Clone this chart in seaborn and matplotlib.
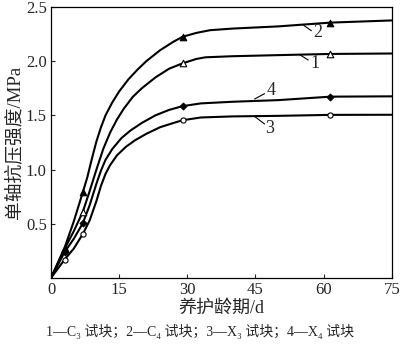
import numpy as np
import pandas as pd
import matplotlib
matplotlib.use("Agg")
import matplotlib.pyplot as plt
import seaborn as sns

# ---- data ----
# curve 1: C3 specimen (open triangle)
c1_x = [0, 3, 5, 7, 8.5, 10, 11.5, 13, 14.5, 16, 18, 20, 23, 26, 29, 32, 34, 40, 50, 61.5, 75]
c1_y = [0, 0.27, 0.43, 0.61, 0.80, 1.00, 1.19, 1.34, 1.46, 1.56, 1.67, 1.75, 1.85, 1.93, 1.98, 2.02, 2.035, 2.045, 2.055, 2.066, 2.07]
# curve 2: C4 specimen (filled triangle)
c2_x = [0, 3, 5, 7, 8, 9, 10, 11, 12, 13.5, 15, 17, 19, 21, 24, 27, 29, 32, 35, 40, 50, 61.5, 75]
c2_y = [0, 0.28, 0.52, 0.79, 0.93, 1.10, 1.26, 1.39, 1.50, 1.62, 1.72, 1.83, 1.92, 2.00, 2.10, 2.18, 2.225, 2.26, 2.285, 2.30, 2.32, 2.355, 2.375]
# curve 3: X3 specimen (open circle)
c3_x = [0, 3, 5, 7, 8.5, 10, 11, 12, 13, 14.5, 16.5, 18.5, 21, 24, 27, 29, 33, 40, 50, 61.5, 75]
c3_y = [0, 0.17, 0.27, 0.405, 0.53, 0.71, 0.85, 0.96, 1.04, 1.13, 1.21, 1.27, 1.33, 1.39, 1.43, 1.455, 1.48, 1.49, 1.495, 1.504, 1.505]
# curve 4: X4 specimen (filled diamond)
c4_x = [0, 3, 5, 7, 8.5, 10, 11, 12, 13.5, 15.5, 17.5, 20, 23, 26, 29, 33, 40, 50, 61.5, 75]
c4_y = [0, 0.24, 0.36, 0.505, 0.67, 0.87, 0.99, 1.09, 1.19, 1.29, 1.36, 1.43, 1.50, 1.55, 1.585, 1.61, 1.625, 1.64, 1.672, 1.675]

# measured points (markers)
mk_x = [3, 7, 29, 61.5]
mk_c1 = [0.27, 0.61, 1.98, 2.066]
mk_c2 = [0.28, 0.79, 2.225, 2.355]
mk_c3 = [0.17, 0.405, 1.455, 1.504]
mk_c4 = [0.24, 0.505, 1.585, 1.672]

curve_labels = ["1", "2", "3", "4"]
label_pos_x = [58.0, 58.7, 48.1, 48.5]
label_pos_y = [1.98, 2.26, 1.38, 1.73]
leader_x0 = [54.7, 55.6, 44.8, 44.8]
leader_y0 = [2.06, 2.33, 1.49, 1.65]
leader_x1 = [56.6, 57.3, 47.0, 47.0]
leader_y1 = [2.01, 2.28, 1.42, 1.70]

x_ticks = [0, 15, 30, 45, 60, 75]
y_ticks = [0.5, 1.0, 1.5, 2.0, 2.5]
y_tick_labels = ["0.5", "1.0", "1.5", "2.0", "2.5"]

x_label = "养护龄期/d"
y_label = "单轴抗压强度/MPa"
caption = "1—C₃ 试块；2—C₄ 试块；3—X₃ 试块；4—X₄ 试块"

# ---- build tables ----
lines = pd.concat([
    pd.DataFrame({"x": c1_x, "y": c1_y, "s": "1"}),
    pd.DataFrame({"x": c2_x, "y": c2_y, "s": "2"}),
    pd.DataFrame({"x": c3_x, "y": c3_y, "s": "3"}),
    pd.DataFrame({"x": c4_x, "y": c4_y, "s": "4"}),
], ignore_index=True)
pts = pd.concat([
    pd.DataFrame({"x": mk_x, "y": mk_c1, "s": "1"}),
    pd.DataFrame({"x": mk_x, "y": mk_c2, "s": "2"}),
    pd.DataFrame({"x": mk_x, "y": mk_c3, "s": "3"}),
    pd.DataFrame({"x": mk_x, "y": mk_c4, "s": "4"}),
], ignore_index=True)

sns.set_style("ticks")
plt.rcParams["font.family"] = ["Liberation Serif", "Noto Sans CJK SC"]
plt.rcParams["xtick.direction"] = "in"
plt.rcParams["ytick.direction"] = "in"

fig = plt.figure(figsize=(4.0, 3.44), dpi=100)
ax = fig.add_axes([0.1275, 0.192, 0.852, 0.788])

sns.lineplot(data=lines, x="x", y="y", units="s", estimator=None, sort=False,
             color="black", linewidth=1.5, ax=ax)

marker_style = {
    "1": dict(marker="^", facecolor="white", s=22),
    "2": dict(marker="^", facecolor="black", s=22),
    "3": dict(marker="o", facecolor="white", s=14),
    "4": dict(marker="D", facecolor="black", s=12),
}
for key, st in marker_style.items():
    sub = pts[pts["s"] == key]
    sns.scatterplot(data=sub, x="x", y="y", marker=st["marker"], s=st["s"],
                    facecolor=st["facecolor"], edgecolor="black", linewidth=0.8,
                    zorder=5, ax=ax, legend=False)

for lab, tx, ty, lx0, ly0, lx1, ly1 in zip(curve_labels, label_pos_x, label_pos_y,
                                          leader_x0, leader_y0, leader_x1, leader_y1):
    ax.plot([lx0, lx1], [ly0, ly1], color="black", linewidth=0.8)
    ax.text(tx, ty, lab, fontsize=13, ha="center", va="center")

ax.set_xlim(0, 75)
ax.set_ylim(0, 2.5)
ax.set_xticks(x_ticks)
ax.set_xticklabels([str(v) for v in x_ticks], fontsize=12)
ax.set_yticks(y_ticks)
ax.set_yticklabels(y_tick_labels, fontsize=12)
ax.tick_params(length=3, width=0.8, pad=3, top=False, right=False)
for sp in ax.spines.values():
    sp.set_visible(True)
    sp.set_linewidth(0.9)
    sp.set_color("black")

ax.set_xlabel(x_label, fontsize=13, labelpad=1)
ax.set_ylabel(y_label, fontsize=13.5, labelpad=1)
fig.text(0.5, 0.035, caption, fontsize=10, ha="center", va="center")

fig.savefig("out.png", dpi=100)
